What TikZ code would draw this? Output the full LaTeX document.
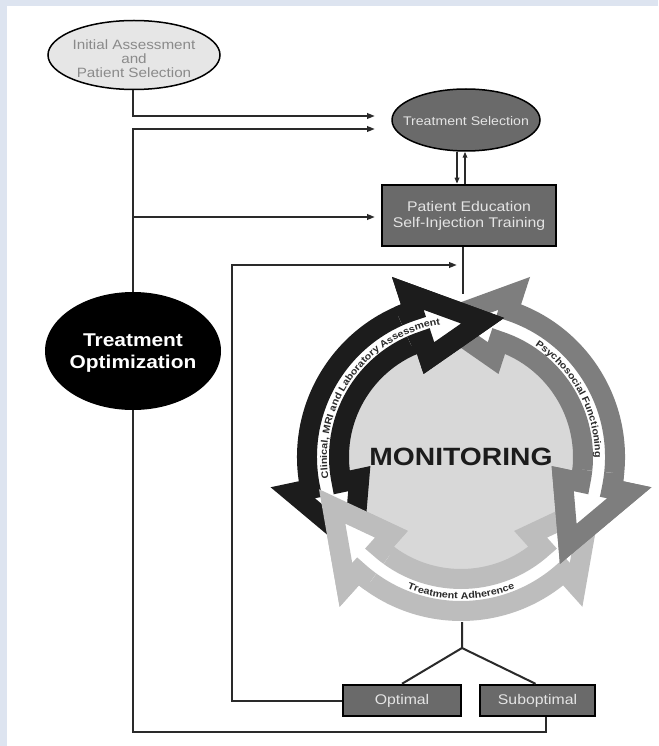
\documentclass[tikz,border=0pt]{standalone}
\usepackage{fontspec}
\setmainfont{Liberation Sans}[FakeStretch=1.13]
\usetikzlibrary{shapes.geometric,arrows.meta,decorations.text,calc}
\definecolor{bgblue}{HTML}{DDE4F0}
\definecolor{lineC}{HTML}{2A2A2A}
\definecolor{darkA}{HTML}{1C1C1C}
\definecolor{midA}{HTML}{7E7E7E}
\definecolor{lightA}{HTML}{BDBDBD}
\definecolor{diskC}{HTML}{D8D8D8}
\definecolor{boxC}{HTML}{6A6A6A}
\definecolor{initC}{HTML}{E6E6E6}
\definecolor{initTC}{HTML}{8A8A8A}
\definecolor{boxT}{HTML}{E4E4E4}
\definecolor{arcT}{HTML}{2A2A2A}
\newcommand\hollowpath[2]{({#1-18}:154) arc[start angle={#1-18}, end angle={#2+18}, radius=154] -- ({#2+18}:172) -- ({#2-9}:138) -- ({#2+18}:104) -- ({#2+18}:122) arc[start angle={#2+18}, end angle={#1-18}, radius=122] -- ({#1-18}:104) -- ({#1+9}:138) -- ({#1-18}:172) -- cycle}
\tikzset{
  conn/.style={draw=lineC, line width=2pt},
  arr/.style={conn, -{Triangle[length=8pt,width=5.5pt]}},
  sarr/.style={draw=lineC, line width=1.6pt, -{Triangle[length=6pt,width=4.5pt]}},
  hollow/.style={fill=white, draw=#1, line width=20pt, line join=miter, miter limit=10},
  darkbox/.style={draw=black, line width=2.5pt, fill=boxC, inner sep=0pt, text=boxT},
  arcfont/.style={}
}
\begin{document}
\begin{tikzpicture}[x=1pt,y=-1pt]
\useasboundingbox (0,0) rectangle (658,746);
\fill[bgblue] (0,0) rectangle (658,746);
\fill[white] (7,6) rectangle (658,746);

% nodes
\node[ellipse, draw=black, line width=1.5pt, fill=initC, minimum width=172pt, minimum height=69pt, inner sep=0pt] (init) at (134,55) {};
\node[align=center, text=initTC, font=\fontsize{13.5}{14}\selectfont] (initTxt) at (134,59) {Initial Assessment\\and\\Patient Selection};

\node[ellipse, draw=black, line width=1.5pt, fill=boxC, minimum width=148pt, minimum height=62pt, inner sep=0pt] (tsel) at (466,120) {};
\node[text=boxT, font=\fontsize{12.5}{13}\selectfont] (tselTxt) at (466,121) {Treatment Selection};

\node[darkbox, minimum width=174pt, minimum height=61pt, align=center, font=\fontsize{14}{16}\selectfont] (pedu) at (469,215.5) {Patient Education\\Self-Injection Training};

\node[ellipse, fill=black, minimum width=176pt, minimum height=118pt, inner sep=0pt] (topt) at (133,351) {};
\node[align=center, text=white, font=\fontsize{18.5}{22}\selectfont\bfseries] (toptTxt) at (133,353) {Treatment\\Optimization};

\node[darkbox, minimum width=118pt, minimum height=31pt, font=\fontsize{14}{15}\selectfont] (opt) at (402,700.5) {Optimal};
\node[darkbox, minimum width=115pt, minimum height=31pt, font=\fontsize{14}{15}\selectfont] (subopt) at (537.5,700.5) {Suboptimal};

% coordinates
\coordinate (e1) at (375,116);
\coordinate (e2) at (375,129);
\coordinate (b1) at (133,217);
\coordinate (e3) at (375,217);
\coordinate (c1) at (232,265);
\coordinate (e4) at (457,265);
\coordinate (ringtop) at (463,294);
\coordinate (ringbot) at (462,622);
\coordinate (fork) at (462,648);
\coordinate (bl) at (133,732);

% connectors
\draw[arr] ([xshift=-1pt]init.south) |- (e1);
\draw[conn] ([xshift=8.5pt]subopt.south) |- (bl) -- (topt.south);
\draw[arr] (topt.north) |- (e2);
\draw[arr] (b1) -- (e3);
\draw[arr] (opt.west) -| (c1) -- (e4);
\draw[sarr] ([xshift=-9pt]tsel.south) -- ([xshift=-12pt]pedu.north);
\draw[sarr] ([xshift=-4pt]pedu.north) -- ([xshift=-1pt]tsel.south);
\draw[conn] ([xshift=-6pt]pedu.south) -- (ringtop);
\draw[conn] (ringbot) -- (fork) -- (opt.north);
\draw[conn] (fork) -- ([xshift=-2pt]subopt.north);

% monitoring ring
\begin{scope}[shift={(461,457)}, x=1pt, y=1pt]
  \fill[diskC] (0,0) circle[radius=113];
  \filldraw[hollow=lightA] \hollowpath{-30}{-150};
  \filldraw[hollow=midA] \hollowpath{90}{-30};
  \filldraw[hollow=darkA] \hollowpath{210}{90};
  \begin{scope}
    \clip (0,0) -- (60:240) arc[start angle=60, end angle=114, radius=240] -- cycle;
    \filldraw[hollow=darkA] \hollowpath{210}{90};
  \end{scope}
  \begin{scope}
    \clip (0,0) -- (-60:240) arc[start angle=-60, end angle=-6, radius=240] -- cycle;
    \filldraw[hollow=midA] \hollowpath{90}{-30};
  \end{scope}
  \begin{scope}
    \clip (0,0) -- (-180:240) arc[start angle=-180, end angle=-126, radius=240] -- cycle;
    \filldraw[hollow=lightA] \hollowpath{-30}{-150};
  \end{scope}
  \path[decorate, decoration={text along path, text align=center, text color=arcT,
     text={|\fontsize{9.5}{10}\selectfont\bfseries|Clinical, MRI and Laboratory Assessment}}]
     (200:134) arc[start angle=200, end angle=88, radius=134];
  \path[decorate, decoration={text along path, text align=center, text color=arcT,
     text={|\fontsize{9.5}{10}\selectfont\bfseries|Psychosocial Functioning}}]
     (75:134) arc[start angle=75, end angle=-19, radius=134];
  \path[decorate, decoration={text along path, text align=center, text color=arcT,
     text={|\fontsize{9.5}{10}\selectfont\bfseries|Treatment Adherence}}]
     (225:142) arc[start angle=225, end angle=315, radius=142];
  \node[font=\fontsize{25}{26}\selectfont\bfseries, text=darkA] (mon) at (0,0) {MONITORING};
\end{scope}
\end{tikzpicture}
\end{document}
